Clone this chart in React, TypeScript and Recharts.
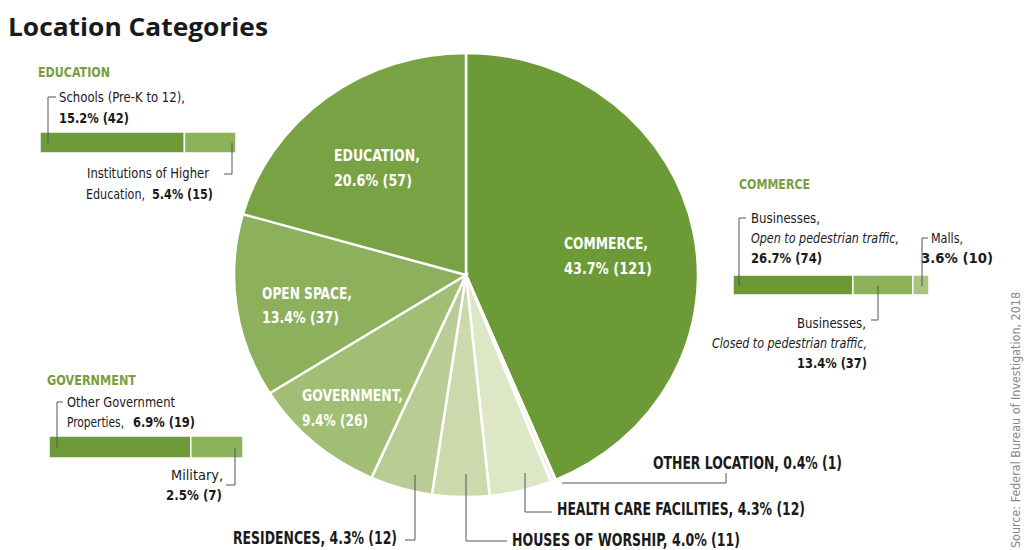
import { Bar, BarChart, Cell, Pie, PieChart, XAxis, YAxis } from 'recharts';

// main pie, clockwise from 12 o'clock
const categories = ['COMMERCE', 'OTHER LOCATION', 'HEALTH CARE FACILITIES', 'HOUSES OF WORSHIP', 'RESIDENCES', 'GOVERNMENT', 'OPEN SPACE', 'EDUCATION'];
const counts = [121, 1, 12, 11, 12, 26, 37, 57];
const percents = ['43.7%', '0.4%', '4.3%', '4.0%', '4.3%', '9.4%', '13.4%', '20.6%'];
const sliceColors = ['#6c9a37', '#eef2e0', '#dde6c5', '#cbd9ac', '#b9cc95', '#a2bd74', '#8cb05b', '#79a244'];

// breakdowns
const eduParts = ['schools', 'higher'];
const eduCounts = [42, 15];
const eduPercents = ['15.2%', '5.4%'];

const comParts = ['open', 'closed', 'malls'];
const comCounts = [74, 37, 10];
const comPercents = ['26.7%', '13.4%', '3.6%'];

const govParts = ['other', 'military'];
const govCounts = [19, 7];
const govPercents = ['6.9%', '2.5%'];

const font = "'DejaVu Sans Condensed', 'Liberation Sans Narrow', Roboto, sans-serif";
const green = '#7a9e3f';
const ink = '#1a1a1a';
const line = '#555';

const pieData = categories.map((c, i) => ({ name: c, value: counts[i] }));
const lbl = (p: string, n: number) => `${p} (${n})`;
const full = (i: number) => `${categories[i]}, ${lbl(percents[i], counts[i])}`;

// text squeezed to the width it has in the original (condensed face)
function T({ x, y, w, children, ...rest }: any) {
  return (
    <text x={x} y={y} textLength={w} lengthAdjust="spacingAndGlyphs" {...rest}>
      {children}
    </text>
  );
}

function MiniBar({ parts, values, colors, left, top, width, height }: any) {
  const row: any = { name: 'row' };
  parts.forEach((p: string, i: number) => (row[p] = values[i]));
  const total = values.reduce((a: number, b: number) => a + b, 0);
  return (
    <div style={{ position: 'absolute', left, top }}>
      <BarChart width={width} height={height} data={[row]} layout="vertical" margin={{ top: 0, right: 0, bottom: 0, left: 0 }} barCategoryGap={0}>
        <XAxis type="number" hide domain={[0, total]} />
        <YAxis type="category" dataKey="name" hide />
        {parts.map((p: string, i: number) => (
          <Bar key={p} dataKey={p} stackId="s" fill={colors[i]} stroke="#fff" strokeWidth={1.5} isAnimationActive={false} />
        ))}
      </BarChart>
    </div>
  );
}

export default function App() {
  return (
    <div style={{ position: 'absolute', left: 0, top: 0, width: 1031, height: 550, background: '#fff', fontFamily: font, overflow: 'hidden' }}>
      <div style={{ position: 'absolute', left: 0, top: 0, transform: 'scaleY(0.957)', transformOrigin: '466px 275px' }}>
        <PieChart width={1031} height={550} margin={{ top: 0, right: 0, bottom: 0, left: 0 }}>
          <Pie
            data={pieData}
            dataKey="value"
            cx={466}
            cy={275}
            outerRadius={232}
            startAngle={90}
            endAngle={-270}
            stroke="#fff"
            strokeWidth={2.5}
            isAnimationActive={false}
          >
            {pieData.map((d, i) => (
              <Cell key={d.name} fill={sliceColors[i]} />
            ))}
          </Pie>
        </PieChart>
      </div>

      <MiniBar parts={eduParts} values={eduCounts} colors={['#6e9b3a', '#8db35a']} left={40} top={132} width={196} height={21} />
      <MiniBar parts={comParts} values={comCounts} colors={['#6a9935', '#8db35a', '#a9c47e']} left={733} top={275} width={196} height={20} />
      <MiniBar parts={govParts} values={govCounts} colors={['#6e9b3a', '#8db35a']} left={49} top={436} width={194} height={22} />

      <svg width={1031} height={550} style={{ position: 'absolute', left: 0, top: 0, pointerEvents: 'none' }} fontFamily={font}>
        <T x={8} y={36} w={260} fontFamily="'Open Sans', sans-serif" fontWeight={700} fontSize={25} fill={ink}>Location Categories</T>

        {/* slice labels */}
        <g fill="#fff" fontWeight={700} fontSize={16} dominantBaseline="central">
          <T x={334} y={155} w={86}>{`${categories[7]},`}</T>
          <T x={334} y={180} w={78}>{lbl(percents[7], counts[7])}</T>
          <T x={564} y={243} w={84}>{`${categories[0]},`}</T>
          <T x={564} y={268} w={88}>{lbl(percents[0], counts[0])}</T>
          <T x={262} y={293} w={90}>{`${categories[6]},`}</T>
          <T x={262} y={317} w={77}>{lbl(percents[6], counts[6])}</T>
          <T x={302} y={395} w={101}>{`${categories[5]},`}</T>
          <T x={302} y={420} w={66}>{lbl(percents[5], counts[5])}</T>
        </g>

        {/* outside slice labels */}
        <g fill={ink} fontWeight={700} fontSize={18} dominantBaseline="central">
          <T x={653} y={462} w={189}>{full(1)}</T>
          <T x={557} y={508} w={248}>{full(2)}</T>
          <T x={512} y={539} w={228}>{full(3)}</T>
          <T x={233} y={537} w={164}>{full(4)}</T>
        </g>
        <g fill="none" stroke={line} strokeWidth={1}>
          <path d="M562,483 H726 V473" />
          <path d="M525,473 V512 H552" />
          <path d="M466,474 V541 H507" />
          <path d="M405,540 H415 V475" />
        </g>

        {/* education breakdown */}
        <g fontSize={14} fill={ink} dominantBaseline="central">
          <T x={38} y={72} w={72} fill={green} fontWeight={700}>EDUCATION</T>
          <T x={59} y={97} w={126}>Schools (Pre-K to 12),</T>
          <T x={59} y={118} w={70} fontWeight={700}>{lbl(eduPercents[0], eduCounts[0])}</T>
          <T x={87} y={173} w={122}>Institutions of Higher</T>
          <T x={86} y={194} w={59}>Education,</T>
          <T x={152} y={194} w={61} fontWeight={700}>{lbl(eduPercents[1], eduCounts[1])}</T>
        </g>
        <g fill="none" stroke={line} strokeWidth={1}>
          <path d="M56,97 H48 V143" />
          <path d="M224,174 H232 V143" />
        </g>

        {/* commerce breakdown */}
        <g fontSize={14} fill={ink} dominantBaseline="central">
          <T x={739} y={184} w={71} fill={green} fontWeight={700}>COMMERCE</T>
          <T x={751} y={218} w={69}>Businesses,</T>
          <T x={751} y={238} w={148} fontStyle="italic">Open to pedestrian traffic,</T>
          <T x={751} y={258} w={71} fontWeight={700}>{lbl(comPercents[0], comCounts[0])}</T>
          <T x={931} y={238} w={32}>Malls,</T>
          <T x={921} y={258} w={72} fontWeight={700}>{lbl(comPercents[2], comCounts[2])}</T>
          <T x={797} y={323} w={69}>Businesses,</T>
          <T x={712} y={343} w={155} fontStyle="italic">Closed to pedestrian traffic,</T>
          <T x={797} y={363} w={70} fontWeight={700}>{lbl(comPercents[1], comCounts[1])}</T>
        </g>
        <g fill="none" stroke={line} strokeWidth={1}>
          <path d="M746,218 H739 V286" />
          <path d="M928,238 H922 V286" />
          <path d="M871,320 H878 V286" />
        </g>

        {/* government breakdown */}
        <g fontSize={14} fill={ink} dominantBaseline="central">
          <T x={47} y={380} w={89} fill={green} fontWeight={700}>GOVERNMENT</T>
          <T x={67} y={402} w={108}>Other Government</T>
          <T x={67} y={422} w={57}>Properties,</T>
          <T x={133} y={422} w={62} fontWeight={700}>{lbl(govPercents[0], govCounts[0])}</T>
          <T x={171} y={475} w={52}>Military,</T>
          <T x={166} y={495} w={56} fontWeight={700}>{lbl(govPercents[1], govCounts[1])}</T>
        </g>
        <g fill="none" stroke={line} strokeWidth={1}>
          <path d="M63,402 H57 V448" />
          <path d="M226,485 H235 V448" />
        </g>

        <T transform="translate(1020,548) rotate(-90)" x={0} y={0} w={256} fontSize={12} fill="#888">Source: Federal Bureau of Investigation, 2018</T>
      </svg>
    </div>
  );
}
